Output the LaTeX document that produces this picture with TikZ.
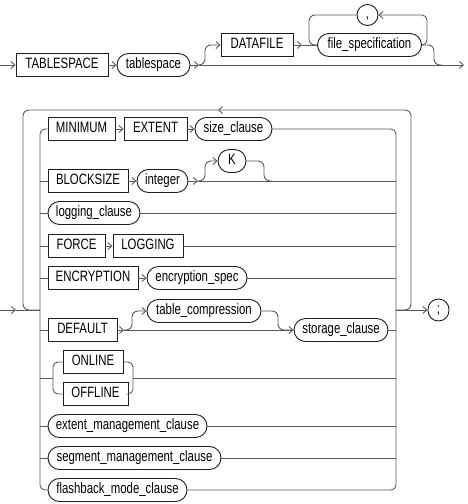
\documentclass[tikz,border=0pt]{standalone}
\usepackage{fontspec}
\setmainfont{Liberation Sans}[FakeStretch=0.76]
\usetikzlibrary{arrows.meta}
\definecolor{linec}{HTML}{5A5A5A}
\definecolor{boxc}{HTML}{1E1E1E}
\begin{document}
\begin{tikzpicture}[x=1pt,y=-1pt,line width=0.9pt,
  font=\fontsize{15}{17}\selectfont,
  kw/.style={draw=boxc,rectangle,minimum height=23pt,inner sep=0pt,text height=10.5pt,text depth=3pt},
  nt/.style={draw=boxc,rounded corners=11.5pt,minimum height=23pt,inner sep=0pt,text height=10.5pt,text depth=3pt},
  ln/.style={draw=linec,rounded corners=5pt},
  sln/.style={draw=linec,rounded corners=6pt},
  arrowtip/.style={-{Straight Barb[length=4pt,width=7pt]}},
  arr/.style={ln,arrowtip},
  sarr/.style={sln,arrowtip}]
\useasboundingbox (0,0) rectangle (468,504);

% ---------- top diagram ----------
\node[kw,minimum width=92pt] (ts) at (62,65) {TABLESPACE};
\node[nt,minimum width=73pt] (tsn) at (153.5,65) {tablespace};
\node[kw,minimum width=72pt] (df) at (257,45) {DATAFILE};
\node[nt,minimum width=104pt] (fs) at (369.5,45) {file\_specification};
\node[nt,minimum width=21pt,minimum height=21pt,rounded corners=10.5pt] (cm) at (367.5,15) {,};

\coordinate (s0) at (0,65);
\coordinate (a1) at (199,65);
\coordinate (b1) at (205,45);
\coordinate (e1) at (464,65);
\coordinate (a2) at (302,45);
\coordinate (lpR) at (427,15);
\coordinate (lpL) at (309,45);
\coordinate (ex1) at (434,65);
\coordinate (ex2) at (442,65);

\draw[arr] (s0) -- (ts.west);
\draw[arr] (ts.east) -- (tsn.west);
\draw[arr] (tsn.east) -- (a1);
\draw[arr] (a1) -- (e1);
\draw[sarr] (a1) -| (b1) -- (df.west);
\draw[arr] (df.east) -- (a2);
\draw[ln] (a2) -- (fs.west);
\draw[arr] (fs.east) -| (lpR) -- (cm.east);
\draw[sln] (cm.west) -| (lpL) -- (fs.west);
\draw[sln] (fs.east) -| (ex1) -- (ex2);

% ---------- bottom diagram ----------
\node[kw,minimum width=67pt] (mn) at (81.5,129) {MINIMUM};
\node[kw,minimum width=63pt] (ex) at (155.5,129) {EXTENT};
\node[nt,minimum width=77pt] (sz) at (233.5,129) {size\_clause};
\node[kw,minimum width=80pt] (bs) at (88,181) {BLOCKSIZE};
\node[nt,minimum width=51pt] (in) at (162.5,181) {integer};
\node[nt,minimum width=28pt] (kk) at (232,161) {K};
\node[nt,minimum width=92pt] (lg) at (94,213) {logging\_clause};
\node[kw,minimum width=57pt] (fo) at (76.5,246) {FORCE};
\node[kw,minimum width=70pt] (lo) at (148,246) {LOGGING};
\node[kw,minimum width=90pt] (en) at (93,278) {ENCRYPTION};
\node[nt,minimum width=100pt] (es) at (197,278) {encryption\_spec};
\node[kw,minimum width=69pt] (de) at (82.5,330) {DEFAULT};
\node[nt,minimum width=114pt] (tc) at (204,311) {table\_compression};
\node[nt,minimum width=94pt] (st) at (341,330) {storage\_clause};
\node[kw,minimum width=60pt] (on) at (93,362) {ONLINE};
\node[kw,minimum width=65pt] (of) at (95.5,394) {OFFLINE};
\node[nt,minimum width=159pt] (em) at (127.5,426) {extent\_management\_clause};
\node[nt,minimum width=173pt] (sm) at (134.5,458) {segment\_management\_clause};
\node[nt,minimum width=139pt] (fb) at (117.5,490) {flashback\_mode\_clause};
\node[nt,minimum width=21pt,minimum height=22pt,rounded corners=10.5pt] (sc) at (438.5,310) {;};

\coordinate (in0) at (0,310);
\coordinate (a3) at (16,310);
\coordinate (jL) at (40,310);
\coordinate (jR) at (396,310);
\coordinate (vL) at (40,490);
\coordinate (vR) at (396,490);
\coordinate (oR) at (411,110);
\coordinate (oT) at (218,110);
\coordinate (oL) at (23,310);

\draw[arr] (in0) -- (a3);
\draw[ln] (a3) -- (jL);
\draw[arr] (jR) -- (sc.west);
\draw[sarr] (jR) -| (oR) -- (oT);
\draw[sln] (oT) -| (oL) -- (jL);

\draw[ln] (mn.west) -| (vL) -- (fb.west);
\draw[ln] (sz.east) -| (vR) -- (fb.east);

% row 1
\draw[arr] (mn.east) -- (ex.west);
\draw[arr] (ex.east) -- (sz.west);
% row 2
\coordinate (a4) at (198,181);
\coordinate (b4) at (205,161);
\coordinate (c4) at (264,181);
\coordinate (d4) at (272,181);
\draw[ln] (bs.west -| jL) -- (bs.west);
\draw[arr] (bs.east) -- (in.west);
\draw[arr] (in.east) -- (a4);
\draw[ln] (a4) -- (bs.east -| vR);
\draw[sarr] (a4) -| (b4) -- (kk.west);
\draw[sln] (kk.east) -| (c4) -- (d4);
% row 3
\draw[ln] (lg.west -| jL) -- (lg.west);
\draw[ln] (lg.east) -- (lg.east -| vR);
% row 4
\draw[ln] (fo.west -| jL) -- (fo.west);
\draw[arr] (fo.east) -- (lo.west);
\draw[ln] (lo.east) -- (lo.east -| vR);
% row 5
\draw[ln] (en.west -| jL) -- (en.west);
\draw[arr] (en.east) -- (es.west);
\draw[ln] (es.east) -- (es.east -| vR);
% row 6
\coordinate (a5) at (124,330);
\coordinate (b5) at (132,311);
\coordinate (c5) at (278,330);
\draw[ln] (de.west -| jL) -- (de.west);
\draw[arr] (de.east) -- (a5);
\draw[arr] (a5) -- (st.west);
\draw[sarr] (a5) -| (b5) -- (tc.west);
\draw[sln] (tc.east) -| (c5) -- (st.west);
\draw[ln] (st.east) -- (st.east -| vR);
% row 7
\coordinate (bl) at (53,378);
\coordinate (bl2) at (53,394);
\coordinate (br) at (133,378);
\coordinate (br2) at (133,394);
\draw[ln] (bl -| jL) -- (bl);
\draw[ln] (on.west) -| (bl2) -- (of.west);
\draw[ln] (on.east) -| (br2) -- (of.east);
\draw[ln] (br) -- (br -| vR);
% rows 8-9
\draw[ln] (em.west -| jL) -- (em.west);
\draw[ln] (em.east) -- (em.east -| vR);
\draw[ln] (sm.west -| jL) -- (sm.west);
\draw[ln] (sm.east) -- (sm.east -| vR);
\end{tikzpicture}
\end{document}
